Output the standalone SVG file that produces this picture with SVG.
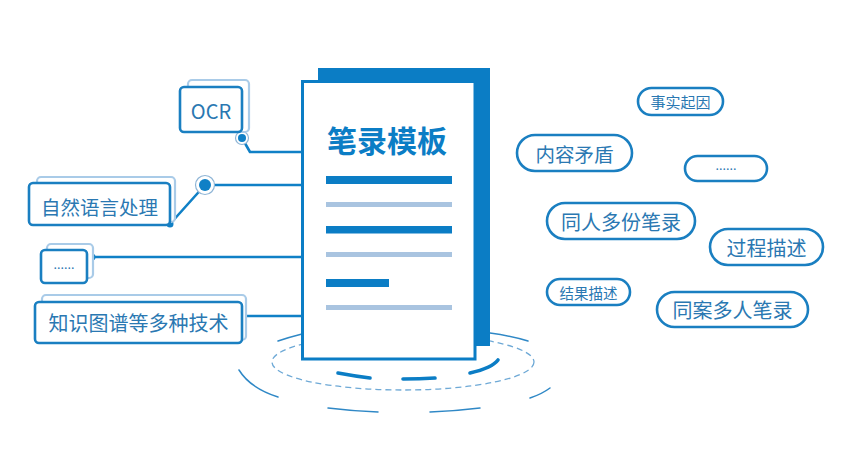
<svg xmlns="http://www.w3.org/2000/svg" width="846" height="468" viewBox="0 0 846 468">
<defs>
<style>
.bg{fill:#ffffff}
.box{fill:#ffffff;stroke:#1a7fc1;stroke-width:2.6}
.back{fill:#ffffff;stroke:#a9cbe8;stroke-width:2.2}
.pill{fill:#ffffff;stroke:#1a7fc1;stroke-width:2.6}
.txt{font-family:"Noto Sans CJK SC","Noto Sans",sans-serif;fill:#2a78b2;text-anchor:middle;dominant-baseline:central}
.dots{font-family:"Noto Sans","Noto Sans CJK SC",sans-serif;fill:#2a78b2;text-anchor:middle}
.conn{fill:none;stroke:#1080c6;stroke-width:2.6;stroke-linejoin:round}
.dot{fill:#1080c6}
.ring{fill:#ffffff;stroke:#8fb5d6;stroke-width:1.2}
.thin{fill:none;stroke:#2f88c6;stroke-width:1.5;stroke-linecap:round}
.thick{fill:none;stroke:#0b7dc5;stroke-width:3.6;stroke-linecap:round}
.dash{fill:none;stroke:#6ea9d6;stroke-width:1.3;stroke-dasharray:6 4}
.dark{fill:#0b7dc5}
.light{fill:#a9c4e0}
</style>
</defs>
<rect class="bg" x="0" y="0" width="846" height="468"/>

<g id="base">
<ellipse class="dash" cx="403" cy="362" rx="131" ry="28"/>
<path class="thin" d="M278,341 Q290,337 302,334"/>
<path class="thin" d="M490,333 Q512,336 528,341"/>
<path class="thin" d="M239,370 Q250,388 278,397"/>
<path class="thin" d="M550,388 Q542,394 530,398"/>
<path class="thin" d="M328,408 Q352,411 378,412"/>
<path class="thin" d="M430,412 Q456,411 480,408"/>
<path class="thick" d="M338,373 Q354,376 370,378"/>
<path class="thick" d="M403,379 Q420,379 435,378"/>
<path class="thick" d="M470,373 Q492,368 498,360"/>
</g>

<g id="document">
<rect class="dark" x="318" y="68" width="172" height="278"/>
<rect x="302.5" y="81.5" width="172.5" height="277.5" fill="#ffffff" stroke="#0b7dc5" stroke-width="3"/>
<text class="txt" x="387" y="139" font-size="30" font-weight="bold" style="fill:#0b7dc5">笔录模板</text>
<rect class="dark" x="326" y="176" width="126" height="8"/>
<rect class="light" x="326" y="202" width="126" height="5"/>
<rect class="dark" x="326" y="226" width="126" height="7.5"/>
<rect class="light" x="326" y="252" width="126" height="5"/>
<rect class="dark" x="326" y="279" width="63" height="8"/>
<rect class="light" x="326" y="305" width="126" height="5"/>
</g>

<g id="connectors">
<path class="conn" d="M242,138 L250,152 L302,152"/>
<path class="conn" d="M170,224 L205,185 L302,185"/>
<path class="conn" d="M92,257 L302,257"/>
<path class="conn" d="M242,316 L302,316"/>
<circle class="ring" cx="242" cy="138" r="6.5"/>
<circle class="dot" cx="242" cy="138" r="4"/>
<circle class="ring" cx="205" cy="185" r="9.5"/>
<circle class="dot" cx="205" cy="185" r="6"/>
<circle class="dot" cx="170" cy="224" r="3.5"/>
<circle class="dot" cx="92" cy="257" r="3.5"/>
<circle class="dot" cx="242" cy="316" r="3.5"/>
</g>

<g id="ocr">
<rect class="back" x="188" y="80" width="61" height="52" rx="4"/>
<rect class="box" x="180" y="87" width="62" height="45" rx="4"/>
<text class="txt" x="211" y="110" font-size="20">OCR</text>
</g>

<g id="nlp">
<rect class="back" x="37" y="177" width="138" height="45" rx="4"/>
<rect class="box" x="29" y="183" width="141" height="42" rx="4"/>
<text class="txt" x="99.5" y="206" font-size="19.5">自然语言处理</text>
</g>

<g id="more-left">
<rect class="back" x="47" y="244" width="46" height="34" rx="4"/>
<rect class="box" x="41" y="250" width="46" height="33" rx="4"/>
<text class="dots" x="64" y="269" font-size="13">......</text>
</g>

<g id="kg">
<rect class="back" x="42" y="295" width="204" height="45" rx="4"/>
<rect class="box" x="35" y="302" width="207" height="41" rx="4"/>
<text class="txt" x="138.5" y="322" font-size="20">知识图谱等多种技术</text>
</g>

<g id="p1">
<rect class="pill" x="638" y="88" width="85" height="27" rx="13.5"/>
<text class="txt" x="680.5" y="101.5" font-size="15">事实起因</text>
</g>
<g id="p2">
<rect class="pill" x="517" y="135" width="115" height="36" rx="18"/>
<text class="txt" x="574.5" y="153" font-size="19.5">内容矛盾</text>
</g>
<g id="p3">
<rect class="pill" x="685" y="156" width="82" height="25" rx="12.5"/>
<text class="dots" x="726" y="169.5" font-size="13">......</text>
</g>
<g id="p4">
<rect class="pill" x="547" y="203" width="148" height="36" rx="18"/>
<text class="txt" x="621" y="221" font-size="20">同人多份笔录</text>
</g>
<g id="p5">
<rect class="pill" x="710" y="229" width="113" height="36" rx="18"/>
<text class="txt" x="766.5" y="247" font-size="20">过程描述</text>
</g>
<g id="p6">
<rect class="pill" x="547" y="279" width="83" height="26" rx="13"/>
<text class="txt" x="588.5" y="292" font-size="14.5">结果描述</text>
</g>
<g id="p7">
<rect class="pill" x="657" y="292" width="151" height="35" rx="17.5"/>
<text class="txt" x="732.5" y="309.5" font-size="20">同案多人笔录</text>
</g>
</svg>
